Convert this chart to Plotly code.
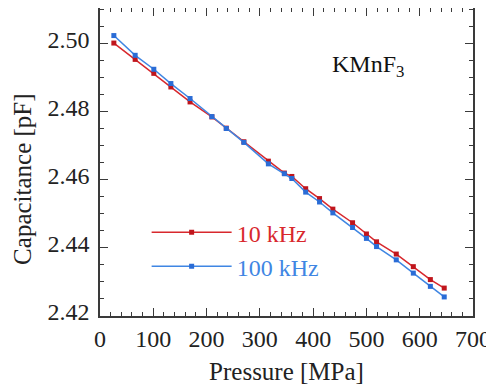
import plotly.graph_objects as go

pressure = [26, 66, 101, 133, 169, 210, 237, 270, 316, 346, 360, 386, 412, 437, 474, 500, 519, 556, 588, 620, 646]
cap_10k = [2.5002, 2.4954, 2.4913, 2.4873, 2.4829, 2.4785, 2.4752, 2.4712, 2.4655, 2.4620, 2.4610,
           2.4574, 2.4545, 2.4514, 2.4474, 2.4441, 2.4418, 2.4382, 2.4345, 2.4307, 2.4282]
cap_100k = [2.5024, 2.4966, 2.4925, 2.4883, 2.4839, 2.4786, 2.4751, 2.4710, 2.4647, 2.4618, 2.4604,
            2.4564, 2.4535, 2.4503, 2.4460, 2.4428, 2.4404, 2.4365, 2.4326, 2.4287, 2.4256]
series_names = ["10 kHz", "100 kHz"]
x_ticks = [0, 100, 200, 300, 400, 500, 600, 700]
y_ticks = [2.42, 2.44, 2.46, 2.48, 2.50]

RED = "#d8282d"
RED_M = "#c0151c"
BLUE = "#3f86e3"
BLUE_M = "#2a6cd6"
FONT = "Liberation Serif, Times New Roman, serif"
AX = "#3a3a3a"

fig = go.Figure()
fig.add_trace(go.Scatter(
    x=pressure, y=cap_10k, mode="lines+markers",
    name=f"<span style='color:{RED}'>{series_names[0]}</span>",
    line=dict(color=RED, width=1.5),
    marker=dict(symbol="square", size=5, color=RED_M),
))
fig.add_trace(go.Scatter(
    x=pressure, y=cap_100k, mode="lines+markers",
    name=f"<span style='color:{BLUE}'>{series_names[1]}</span>",
    line=dict(color=BLUE, width=1.5),
    marker=dict(symbol="square", size=5, color=BLUE_M),
))

axis_common = dict(
    showline=True, linecolor=AX, linewidth=1.5, mirror="ticks",
    ticks="inside", ticklen=8, tickwidth=1.3, tickcolor=AX,
    showgrid=False, zeroline=False, automargin=False,
    tickfont=dict(family=FONT, size=24, color="#222"),
)

fig.update_xaxes(
    range=[0, 700], tickvals=x_ticks, ticktext=[str(v) for v in x_ticks],
    minor=dict(dtick=20, ticks="inside", ticklen=4, tickwidth=1.1, tickcolor=AX, showgrid=False),
    title=dict(text="Pressure [MPa]", font=dict(family=FONT, size=25, color="#222"), standoff=12),
    ticklabelstandoff=0,
    **axis_common,
)
fig.update_yaxes(
    range=[2.42, 2.5105], tickvals=y_ticks, ticktext=[f"{v:.2f}" for v in y_ticks],
    minor=dict(dtick=0.005, tick0=2.42, ticks="inside", ticklen=4, tickwidth=1.1, tickcolor=AX, showgrid=False),
    ticklabelstandoff=4, ticklabelshift=-4,
    **axis_common,
)

fig.add_annotation(
    x=-0.2066, y=0.445, xref="paper", yref="paper", xanchor="center", yanchor="middle",
    text="Capacitance [pF]", textangle=-90, showarrow=False,
    font=dict(family=FONT, size=25, color="#222"),
)

fig.add_annotation(
    x=0.617, y=0.813, xref="paper", yref="paper", xanchor="left", yanchor="middle",
    text="KMnF<sub>3</sub>", showarrow=False,
    font=dict(family=FONT, size=24, color="#111"),
)

fig.update_layout(
    width=486, height=382,
    margin=dict(l=92, r=21, t=0, b=74),
    paper_bgcolor="white", plot_bgcolor="white",
    showlegend=True,
    legend=dict(
        x=0.125, y=0.344, xanchor="left", yanchor="top",
        bgcolor="rgba(0,0,0,0)", borderwidth=0,
        font=dict(family=FONT, size=24),
        itemwidth=80, tracegroupgap=0,
    ),
)

fig.write_html("out.html")
